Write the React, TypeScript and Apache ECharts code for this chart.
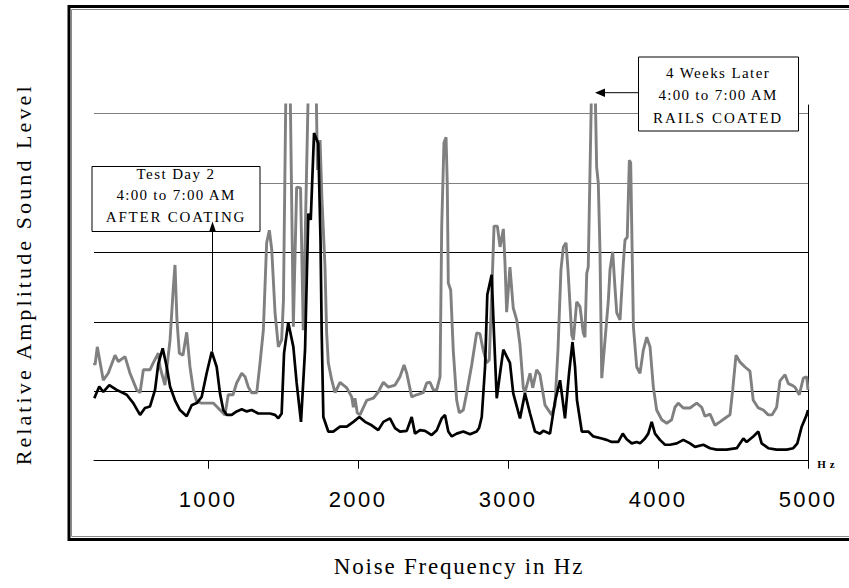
import React, { useEffect, useRef } from "react";
import * as echarts from "echarts";

// X axis ticks (Hz)
const xTicks = [1000, 2000, 3000, 4000, 5000];

// "4 Weeks Later / RAILS COATED" (gray) — frequency (Hz) and relative level
const grayHz = [240, 247, 262, 302, 335, 380, 402, 447, 480, 525, 547, 569, 613, 635, 669, 680, 713, 747, 769, 780, 793, 809, 833, 858, 880, 902, 925, 958, 1035, 1080, 1113, 1135, 1167, 1191, 1225, 1247, 1269, 1291, 1325, 1347, 1369, 1391, 1409, 1425, 1447, 1469, 1491, 1503, 1520, 1547, 1569, 1591, 1617, 1635, 1670, 1720, 1730, 1747, 1760, 1780, 1791, 1802, 1825, 1847, 1880, 1925, 1958, 1969, 1980, 1995, 2013, 2058, 2102, 2135, 2169, 2202, 2247, 2280, 2307, 2325, 2358, 2391, 2435, 2458, 2480, 2502, 2525, 2547, 2558, 2573, 2587, 2595, 2602, 2618, 2635, 2658, 2675, 2702, 2725, 2758, 2791, 2813, 2835, 2858, 2875, 2890, 2907, 2929, 2947, 2969, 2980, 2991, 3013, 3035, 3058, 3080, 3102, 3113, 3147, 3165, 3191, 3213, 3247, 3291, 3313, 3333, 3353, 3369, 3387, 3400, 3425, 3436, 3458, 3480, 3502, 3513, 3525, 3535, 3558, 3580, 3591, 3602, 3613, 3625, 3647, 3669, 3680, 3698, 3713, 3725, 3747, 3769, 3780, 3795, 3809, 3818, 3825, 3836, 3858, 3880, 3902, 3925, 3947, 3958, 3969, 3991, 4025, 4058, 4091, 4113, 4135, 4169, 4213, 4258, 4291, 4313, 4347, 4380, 4413, 4458, 4480, 4498, 4520, 4547, 4580, 4613, 4635, 4669, 4702, 4735, 4760, 4791, 4813, 4847, 4869, 4891, 4913, 4942, 4969, 4991, 5000];
const grayLevel = [14.1, 13.8, 16.4, 11.6, 12.6, 15.2, 14.3, 15.0, 12.6, 10.2, 9.8, 13.1, 13.1, 14.1, 15.5, 13.5, 10.9, 17.4, 25.0, 28.2, 20.3, 15.5, 15.2, 18.5, 13.5, 10.2, 8.5, 8.3, 8.3, 7.3, 6.6, 9.5, 9.5, 11.2, 12.6, 12.1, 10.6, 9.8, 9.8, 14.1, 18.8, 31.4, 33.2, 30.4, 21.3, 16.4, 17.4, 23.1, 55, 55, 19.3, 39.4, 39.3, 18.8, 55, 55, 41.9, 46.2, 37.5, 27.9, 18.4, 14.1, 11.6, 9.8, 11.3, 10.5, 9.2, 7.7, 9.0, 6.9, 6.6, 8.7, 9.0, 9.9, 11.3, 10.6, 10.9, 12.1, 13.8, 12.6, 9.2, 9.5, 9.8, 11.2, 11.3, 10.2, 10.2, 12.1, 33.7, 45.8, 46.6, 40.0, 25.6, 24.6, 15.9, 8.7, 6.9, 7.3, 9.8, 13.8, 18.4, 18.3, 15.9, 14.1, 14.5, 23.1, 33.8, 33.8, 30.8, 33.4, 28.5, 21.4, 27.9, 22.0, 20.3, 16.7, 10.5, 9.8, 12.6, 10.5, 13.1, 12.4, 8.0, 6.6, 8.0, 15.9, 27.5, 30.8, 31.4, 27.5, 18.1, 17.4, 22.9, 22.2, 18.4, 17.8, 27.0, 27.9, 55, 55, 42.3, 40.0, 30.4, 11.9, 17.4, 23.1, 27.5, 30.1, 25.0, 21.3, 20.3, 28.5, 31.8, 32.2, 43.3, 42.9, 33.7, 19.3, 13.5, 12.6, 15.9, 17.8, 16.4, 13.5, 10.6, 7.3, 5.9, 5.4, 5.9, 7.7, 8.3, 7.6, 7.6, 8.3, 7.7, 6.4, 6.7, 5.1, 5.6, 6.3, 6.6, 10.2, 15.2, 14.2, 13.5, 12.9, 8.7, 7.6, 7.3, 6.6, 6.6, 7.7, 11.5, 12.4, 11.1, 10.9, 10.6, 9.5, 11.9, 12.1, 10.2];

// "Test Day 2 / AFTER COATING" (black)
const blackHz = [242, 275, 302, 342, 391, 458, 502, 547, 580, 613, 647, 669, 698, 725, 747, 780, 813, 858, 891, 925, 958, 991, 1025, 1058, 1080, 1102, 1125, 1158, 1191, 1225, 1258, 1291, 1335, 1380, 1413, 1447, 1469, 1491, 1507, 1535, 1569, 1591, 1620, 1647, 1669, 1685, 1707, 1735, 1750, 1758, 1769, 1802, 1835, 1880, 1925, 1969, 2009, 2047, 2091, 2135, 2169, 2213, 2247, 2280, 2325, 2358, 2380, 2413, 2447, 2491, 2525, 2558, 2580, 2602, 2625, 2658, 2702, 2747, 2791, 2807, 2825, 2847, 2862, 2891, 2907, 2925, 2947, 2969, 2987, 3013, 3035, 3080, 3113, 3147, 3180, 3213, 3235, 3280, 3313, 3347, 3380, 3407, 3430, 3447, 3460, 3492, 3535, 3569, 3625, 3658, 3691, 3735, 3765, 3791, 3825, 3858, 3880, 3913, 3935, 3958, 3980, 4013, 4047, 4080, 4125, 4169, 4213, 4247, 4302, 4347, 4391, 4458, 4525, 4569, 4591, 4635, 4669, 4691, 4735, 4791, 4858, 4902, 4929, 4958, 4991, 5000];
const blackLevel = [9.0, 10.7, 9.9, 10.9, 10.2, 9.5, 8.3, 6.6, 7.6, 7.8, 10.2, 14.0, 16.2, 13.5, 10.7, 8.7, 7.3, 6.4, 8.0, 8.3, 9.2, 12.6, 15.7, 13.5, 9.7, 7.3, 6.6, 6.6, 7.1, 7.4, 7.1, 7.3, 6.8, 6.8, 6.8, 6.6, 6.1, 6.8, 15.5, 19.9, 16.4, 11.2, 5.6, 16.0, 35.6, 34.7, 47.2, 45.7, 31.8, 18.4, 6.3, 4.2, 4.2, 4.9, 4.9, 5.6, 6.3, 5.6, 5.1, 4.4, 5.6, 6.1, 4.7, 4.2, 4.3, 6.3, 3.9, 4.4, 4.3, 3.7, 4.4, 6.1, 6.6, 4.2, 3.5, 3.9, 4.2, 3.8, 4.2, 4.7, 6.3, 13.5, 23.9, 26.8, 18.1, 9.0, 12.6, 16.0, 15.2, 14.1, 9.7, 6.1, 9.7, 6.8, 4.2, 3.9, 4.3, 3.9, 8.5, 11.6, 6.1, 12.6, 17.1, 13.5, 8.7, 4.2, 4.2, 3.5, 3.2, 3.0, 2.7, 2.7, 3.9, 3.1, 2.5, 2.7, 2.5, 3.2, 3.9, 5.6, 3.9, 3.0, 2.3, 2.3, 2.5, 3.0, 2.5, 2.0, 2.3, 1.8, 1.6, 1.6, 1.8, 3.2, 2.7, 3.5, 4.2, 2.5, 1.8, 1.6, 1.6, 1.8, 2.5, 4.9, 6.6, 7.3];

const annotationLeft = ["Test Day 2", "4:00 to 7:00 AM", "AFTER COATING"];
const annotationRight = ["4 Weeks Later", "4:00 to 7:00 AM", "RAILS COATED"];

const letterSpacing: Record<string, number> = {
  "1000": 2.4,
  "2000": 2.4,
  "3000": 2.4,
  "4000": 2.4,
  "5000": 2.4,
  "Noise Frequency in Hz": 1.8,
  "Relative Amplitude Sound Level": 3.1,
  "Test Day 2": 1.4,
  "4:00 to 7:00 AM": 1.3,
  "AFTER COATING": 1.8,
  "4 Weeks Later": 1.4,
  "RAILS COATED": 2.0,
  Hz: 4,
};

function zip(xs: number[], ys: number[]) {
  return xs.map((x, i) => [x, ys[i]]);
}

function applySpacing(root: HTMLElement | null) {
  if (!root) return;
  root.querySelectorAll("text").forEach((t) => {
    const s = letterSpacing[(t.textContent || "").trim()];
    if (s != null) t.setAttribute("letter-spacing", String(s));
  });
}

const SERIF = "'Liberation Serif', 'Times New Roman', serif";
const SANS = "'Liberation Sans', Arial, sans-serif";

function boxTexts(lines: string[], cx: number, ys: number[]) {
  return lines.map((t, i) => ({
    type: "text",
    z: 12,
    x: cx,
    y: ys[i],
    style: {
      text: t,
      font: `15px ${SERIF}`,
      fill: "#000",
      textAlign: "center",
      verticalAlign: "middle",
    },
  }));
}

export default function App() {
  const ref = useRef<HTMLDivElement>(null);

  useEffect(() => {
    document.body.style.margin = "0";
    document.body.style.overflow = "hidden";
    const el = ref.current!;
    const chart = echarts.init(el, null, { renderer: "svg" });

    const option: any = {
      animation: false,
      backgroundColor: "#fff",
      grid: { left: 94, top: 105, width: 714, height: 355.7, containLabel: false },
      xAxis: {
        type: "value",
        min: 240,
        max: 5000,
        name: "Noise Frequency in Hz",
        nameLocation: "middle",
        nameGap: 94,
        nameTextStyle: { fontFamily: SERIF, fontSize: 23, color: "#000", padding: [0, 0, 0, 16] },
        axisLine: { show: true, lineStyle: { color: "#000", width: 1 } },
        axisTick: { show: true, customValues: xTicks, length: 8, lineStyle: { color: "#000", width: 1 } },
        axisLabel: {
          show: true,
          customValues: xTicks,
          formatter: (v: number) => String(v),
          margin: 28,
          fontFamily: SANS,
          fontSize: 22,
          color: "#000",
        },
        splitLine: { show: false },
      },
      yAxis: [
        {
          type: "value",
          min: 0,
          max: 51.25,
          interval: 10,
          position: "left",
          name: "Relative Amplitude Sound Level",
          nameLocation: "middle",
          nameGap: 60,
          nameRotate: 90,
          nameTextStyle: { fontFamily: SERIF, fontSize: 22, color: "#000", padding: [0, 0, 0, 17] },
          axisLine: { show: false },
          axisTick: { show: false },
          axisLabel: { show: false },
          splitLine: {
            show: true,
            showMinLine: false,
            showMaxLine: false,
            lineStyle: { color: ["#000", "#000", "#000", "#808080", "#808080"], width: 1 },
          },
        },
        {
          type: "value",
          min: 0,
          max: 51.25,
          position: "right",
          axisLine: { show: true, lineStyle: { color: "#000", width: 1 } },
          axisTick: { show: false },
          axisLabel: { show: false },
          splitLine: { show: false },
        },
      ],
      series: [
        {
          name: "4 Weeks Later 4:00 to 7:00 AM RAILS COATED",
          type: "line",
          data: zip(grayHz, grayLevel),
          symbol: "none",
          clip: true,
          lineStyle: { color: "#808080", width: 2.9 },
          itemStyle: { color: "#808080" },
          z: 2,
        },
        {
          name: "Test Day 2 4:00 to 7:00 AM AFTER COATING",
          type: "line",
          data: zip(blackHz, blackLevel),
          symbol: "none",
          clip: true,
          lineStyle: { color: "#000", width: 2.7 },
          itemStyle: { color: "#000" },
          z: 3,
        },
      ],
      graphic: [
        // chart frame
        { type: "rect", z: 10, shape: { x: 69, y: 6.5, width: 800, height: 533 }, style: { fill: "none", stroke: "#000", lineWidth: 3 } },
        { type: "rect", z: 10, shape: { x: 71.5, y: 9.5, width: 800, height: 527 }, style: { fill: "none", stroke: "#8a8a8a", lineWidth: 1 } },
        // left annotation box
        { type: "rect", z: 11, shape: { x: 92, y: 166.5, width: 168, height: 65 }, style: { fill: "#fff", stroke: "#000", lineWidth: 1 } },
        ...boxTexts(annotationLeft, 176, [174, 195, 216.5]),
        { type: "line", z: 11, shape: { x1: 212.5, y1: 351, x2: 212.5, y2: 226 }, style: { stroke: "#000", lineWidth: 1 } },
        { type: "polygon", z: 12, shape: { points: [[212.5, 221.5], [209, 232], [216, 232]] }, style: { fill: "#000" } },
        // right annotation box
        { type: "rect", z: 11, shape: { x: 638.5, y: 57, width: 160, height: 74 }, style: { fill: "#fff", stroke: "#000", lineWidth: 1 } },
        ...boxTexts(annotationRight, 718, [73, 95, 117.5]),
        { type: "line", z: 11, shape: { x1: 638.5, y1: 92.7, x2: 602, y2: 92.7 }, style: { stroke: "#000", lineWidth: 1 } },
        { type: "polygon", z: 12, shape: { points: [[595, 92.7], [605, 88.5], [605, 97]] }, style: { fill: "#000" } },
        // unit label
        {
          type: "text",
          z: 12,
          x: 828,
          y: 464,
          style: { text: "Hz", font: `bold 11px ${SERIF}`, fill: "#000", textAlign: "center", verticalAlign: "middle" },
        },
      ],
    };

    chart.setOption(option);
    applySpacing(el);
    chart.on("finished", () => applySpacing(el));
    return () => {
      chart.dispose();
    };
  }, []);

  return <div ref={ref} style={{ width: 849, height: 588 }} />;
}
